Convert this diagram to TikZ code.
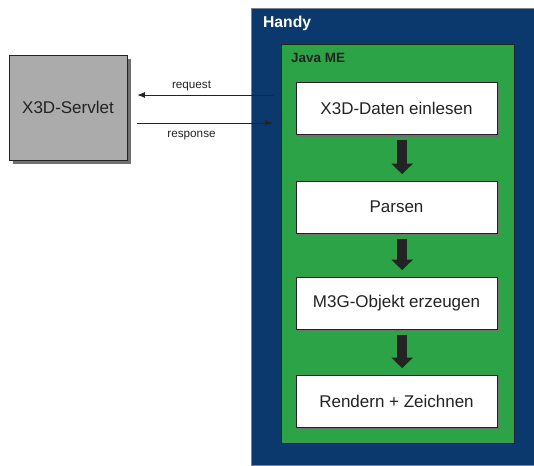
\documentclass[tikz,border=0pt]{standalone}
\usepackage{fontspec}
\setmainfont{Liberation Sans}
\definecolor{handyblue}{RGB}{11,57,110}
\definecolor{javagreen}{RGB}{44,163,71}
\definecolor{servgray}{RGB}{171,171,171}
\definecolor{shadegray}{RGB}{112,112,112}
\definecolor{inkgray}{RGB}{35,35,35}
\usetikzlibrary{arrows.meta,positioning,shadows}

\begin{document}
\begin{tikzpicture}[x=0.03cm, y=-0.03cm,
  stepbox/.style={draw=inkgray, fill=white, minimum width=6.03cm, minimum height=1.56cm, inner sep=0pt, font=\fontsize{14.5}{17}\selectfont, text=inkgray, drop shadow={shadow xshift=0.06cm, shadow yshift=-0.06cm, fill=shadegray, opacity=1}},
  flowarrow/.style={line width=8.5pt, inkgray, -{Triangle[width=18pt, length=9pt]}},
  msgarrow/.style={line width=0.7pt, inkgray, -{Latex[length=6.5pt, width=5pt]}},
  msglabel/.style={font=\fontsize{10}{12}\selectfont, text=inkgray}]
  \useasboundingbox (0,0) rectangle (534,465);

  %% Outer frame -- Handy
  \node[draw=gray, fill=handyblue, minimum width=8.52cm, minimum height=13.71cm, inner sep=0pt, anchor=north west] (handy) at (251,8) {};
  \node[anchor=west, text=white, font=\bfseries\fontsize{13.4}{16}\selectfont] (handylbl) at (259,23) {Handy};

  %% Inner frame -- Java ME
  \node[draw=inkgray, fill=javagreen, minimum width=6.99cm, minimum height=11.97cm, inner sep=0pt, anchor=north west] (javame) at (281,44) {};
  \node[anchor=west, text=inkgray, font=\bfseries\fontsize{11.5}{14}\selectfont] (javalbl) at (287,58) {Java ME};

  %% Processing steps
  \node[stepbox] (einlesen) at (396.5,108.5) {X3D-Daten einlesen};
  \node[stepbox] (parsen)   at (396.5,207)   {Parsen};
  \node[stepbox] (erzeugen) at (396.5,303)   {M3G-Objekt erzeugen};
  \node[stepbox] (rendern)  at (396.5,401)   {Rendern + Zeichnen};

  \draw[flowarrow] ([xshift=0.17cm, yshift=-0.17cm]einlesen.south) -- ([xshift=0.17cm, yshift=0.2cm]parsen.north);
  \draw[flowarrow] ([xshift=0.17cm, yshift=-0.17cm]parsen.south)   -- ([xshift=0.17cm, yshift=0.2cm]erzeugen.north);
  \draw[flowarrow] ([xshift=0.17cm, yshift=-0.17cm]erzeugen.south) -- ([xshift=0.17cm, yshift=0.2cm]rendern.north);

  %% Left: server
  \node[draw=inkgray, fill=servgray, minimum width=3.54cm, minimum height=3.15cm, inner sep=0pt, font=\fontsize{14.5}{17}\selectfont, text=inkgray, drop shadow={shadow xshift=0.12cm, shadow yshift=-0.12cm, fill=shadegray, opacity=1}] (servlet) at (68,107.5) {X3D-Servlet};

  %% Messages
  \coordinate (reqstart) at (273,95);
  \coordinate (respend)  at (273,123);
  \draw[msgarrow] (reqstart) -- ([xshift=0.3cm]servlet.east |- reqstart) node[msglabel, pos=0.6, above=0pt] (reqlbl) {request};
  \draw[msgarrow] ([xshift=0.3cm]servlet.east |- respend) -- (respend) node[msglabel, pos=0.4, below=3pt] (resplbl) {response};
\end{tikzpicture}
\end{document}
